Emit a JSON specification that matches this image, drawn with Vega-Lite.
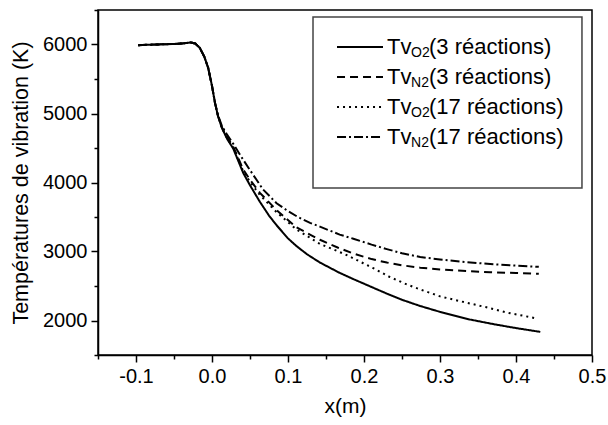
{
  "$schema": "https://vega.github.io/schema/vega-lite/v6.json",
  "width": 494,
  "height": 345,
  "autosize": {"type": "none"},
  "padding": {"left": 98, "top": 10, "right": 16, "bottom": 70},
  "background": "white",
  "config": {
    "view": {"stroke": "black", "strokeWidth": 1.5},
    "font": "Liberation Sans",
    "axis": {
      "labelFont": "Liberation Sans", "labelFontSize": 20, "labelColor": "black",
      "titleFont": "Liberation Sans", "titleFontSize": 20, "titleFontWeight": "normal", "titleColor": "black",
      "domainColor": "black", "domainWidth": 1.5, "tickColor": "black", "tickWidth": 1.5, "grid": false
    }
  },
  "datasets": {
    "curves": [
      {"s":"O2_3","x":-0.097,"T":5990},{"s":"O2_3","x":-0.08,"T":5998},{"s":"O2_3","x":-0.06,"T":6005},{"s":"O2_3","x":-0.045,"T":6010},{"s":"O2_3","x":-0.035,"T":6020},{"s":"O2_3","x":-0.028,"T":6030},{"s":"O2_3","x":-0.022,"T":6015},{"s":"O2_3","x":-0.016,"T":5950},{"s":"O2_3","x":-0.01,"T":5820},{"s":"O2_3","x":-0.005,"T":5660},{"s":"O2_3","x":0.0,"T":5400},{"s":"O2_3","x":0.004,"T":5150},{"s":"O2_3","x":0.008,"T":4960},{"s":"O2_3","x":0.013,"T":4790},{"s":"O2_3","x":0.02,"T":4630},
      {"s":"O2_3","x":0.028,"T":4490},{"s":"O2_3","x":0.041,"T":4140},{"s":"O2_3","x":0.05,"T":3960},{"s":"O2_3","x":0.063,"T":3720},{"s":"O2_3","x":0.075,"T":3520},{"s":"O2_3","x":0.085,"T":3380},{"s":"O2_3","x":0.1,"T":3190},{"s":"O2_3","x":0.111,"T":3080},{"s":"O2_3","x":0.125,"T":2960},{"s":"O2_3","x":0.142,"T":2840},{"s":"O2_3","x":0.168,"T":2690},{"s":"O2_3","x":0.186,"T":2600},{"s":"O2_3","x":0.21,"T":2485},{"s":"O2_3","x":0.23,"T":2390},{"s":"O2_3","x":0.25,"T":2300},{"s":"O2_3","x":0.274,"T":2210},{"s":"O2_3","x":0.3,"T":2125},{"s":"O2_3","x":0.339,"T":2015},{"s":"O2_3","x":0.37,"T":1948},{"s":"O2_3","x":0.4,"T":1890},{"s":"O2_3","x":0.432,"T":1835},

      {"s":"N2_3","x":-0.097,"T":5990},{"s":"N2_3","x":-0.08,"T":5998},{"s":"N2_3","x":-0.06,"T":6005},{"s":"N2_3","x":-0.045,"T":6010},{"s":"N2_3","x":-0.035,"T":6020},{"s":"N2_3","x":-0.028,"T":6030},{"s":"N2_3","x":-0.022,"T":6015},{"s":"N2_3","x":-0.016,"T":5950},{"s":"N2_3","x":-0.01,"T":5820},{"s":"N2_3","x":-0.005,"T":5660},{"s":"N2_3","x":0.0,"T":5400},{"s":"N2_3","x":0.004,"T":5150},{"s":"N2_3","x":0.008,"T":4960},{"s":"N2_3","x":0.013,"T":4800},{"s":"N2_3","x":0.02,"T":4650},
      {"s":"N2_3","x":0.028,"T":4520},{"s":"N2_3","x":0.041,"T":4190},{"s":"N2_3","x":0.05,"T":4040},{"s":"N2_3","x":0.063,"T":3850},{"s":"N2_3","x":0.085,"T":3600},{"s":"N2_3","x":0.111,"T":3350},{"s":"N2_3","x":0.142,"T":3170},{"s":"N2_3","x":0.166,"T":3055},{"s":"N2_3","x":0.186,"T":2970},{"s":"N2_3","x":0.21,"T":2890},{"s":"N2_3","x":0.23,"T":2840},{"s":"N2_3","x":0.25,"T":2800},{"s":"N2_3","x":0.274,"T":2765},{"s":"N2_3","x":0.3,"T":2740},{"s":"N2_3","x":0.336,"T":2715},{"s":"N2_3","x":0.366,"T":2700},{"s":"N2_3","x":0.4,"T":2688},{"s":"N2_3","x":0.43,"T":2678},

      {"s":"O2_17","x":-0.097,"T":5990},{"s":"O2_17","x":-0.08,"T":5998},{"s":"O2_17","x":-0.06,"T":6005},{"s":"O2_17","x":-0.045,"T":6010},{"s":"O2_17","x":-0.035,"T":6020},{"s":"O2_17","x":-0.028,"T":6030},{"s":"O2_17","x":-0.022,"T":6015},{"s":"O2_17","x":-0.016,"T":5950},{"s":"O2_17","x":-0.01,"T":5820},{"s":"O2_17","x":-0.005,"T":5660},{"s":"O2_17","x":0.0,"T":5400},{"s":"O2_17","x":0.004,"T":5150},{"s":"O2_17","x":0.008,"T":4960},{"s":"O2_17","x":0.013,"T":4795},{"s":"O2_17","x":0.02,"T":4640},
      {"s":"O2_17","x":0.028,"T":4505},{"s":"O2_17","x":0.041,"T":4165},{"s":"O2_17","x":0.05,"T":4010},{"s":"O2_17","x":0.063,"T":3820},{"s":"O2_17","x":0.085,"T":3570},{"s":"O2_17","x":0.111,"T":3320},{"s":"O2_17","x":0.142,"T":3110},{"s":"O2_17","x":0.175,"T":2960},{"s":"O2_17","x":0.199,"T":2830},{"s":"O2_17","x":0.212,"T":2760},{"s":"O2_17","x":0.234,"T":2630},{"s":"O2_17","x":0.257,"T":2520},{"s":"O2_17","x":0.274,"T":2450},{"s":"O2_17","x":0.3,"T":2350},{"s":"O2_17","x":0.336,"T":2255},{"s":"O2_17","x":0.36,"T":2195},{"s":"O2_17","x":0.388,"T":2115},{"s":"O2_17","x":0.425,"T":2035},

      {"s":"N2_17","x":-0.097,"T":5990},{"s":"N2_17","x":-0.08,"T":5998},{"s":"N2_17","x":-0.06,"T":6005},{"s":"N2_17","x":-0.045,"T":6010},{"s":"N2_17","x":-0.035,"T":6020},{"s":"N2_17","x":-0.028,"T":6030},{"s":"N2_17","x":-0.022,"T":6015},{"s":"N2_17","x":-0.016,"T":5950},{"s":"N2_17","x":-0.01,"T":5820},{"s":"N2_17","x":-0.005,"T":5660},{"s":"N2_17","x":0.0,"T":5400},{"s":"N2_17","x":0.004,"T":5150},{"s":"N2_17","x":0.008,"T":4970},{"s":"N2_17","x":0.013,"T":4820},{"s":"N2_17","x":0.02,"T":4690},
      {"s":"N2_17","x":0.028,"T":4560},{"s":"N2_17","x":0.041,"T":4330},{"s":"N2_17","x":0.05,"T":4180},{"s":"N2_17","x":0.067,"T":3900},{"s":"N2_17","x":0.085,"T":3700},{"s":"N2_17","x":0.098,"T":3600},{"s":"N2_17","x":0.113,"T":3500},{"s":"N2_17","x":0.129,"T":3415},{"s":"N2_17","x":0.142,"T":3360},{"s":"N2_17","x":0.168,"T":3245},{"s":"N2_17","x":0.186,"T":3185},{"s":"N2_17","x":0.21,"T":3100},{"s":"N2_17","x":0.23,"T":3035},{"s":"N2_17","x":0.25,"T":2975},{"s":"N2_17","x":0.274,"T":2920},{"s":"N2_17","x":0.3,"T":2885},{"s":"N2_17","x":0.336,"T":2845},{"s":"N2_17","x":0.366,"T":2818},{"s":"N2_17","x":0.4,"T":2795},{"s":"N2_17","x":0.43,"T":2778}
    ],
    "leg": [
      {"s":"O2_3","sub":"O2","rest":"(3 réactions)"},
      {"s":"N2_3","sub":"N2","rest":"(3 réactions)"},
      {"s":"O2_17","sub":"O2","rest":"(17 réactions)"},
      {"s":"N2_17","sub":"N2","rest":"(17 réactions)"}
    ]
  },
  "layer": [
    {
      "layer": [
        {
          "data": {"name": "curves"},
          "mark": {"type": "line", "color": "black", "strokeWidth": 2},
          "encoding": {
            "x": {"field": "x", "type": "quantitative",
              "scale": {"domain": [-0.15, 0.5], "nice": false, "zero": false},
              "axis": {"title": "x(m)", "orient": "bottom", "values": [-0.1, 0, 0.1, 0.2, 0.3, 0.4, 0.5], "tickSize": 7, "labelPadding": 4, "titlePadding": 9, "titleFontSize": 21,
                "labelExpr": "datum.value < -0.001 ? '-' + format(-datum.value, '.1f') : format(abs(datum.value), '.1f')", "labelFlush": false, "labelOverlap": false}},
            "y": {"field": "T", "type": "quantitative",
              "scale": {"domain": [1500, 6500], "nice": false, "zero": false},
              "axis": {"title": "Températures de vibration (K)", "orient": "left", "values": [2000, 3000, 4000, 5000, 6000], "format": "d", "tickSize": 7, "labelPadding": 4, "titlePadding": 10, "titleFontSize": 21.5, "labelOverlap": false, "labelFlush": false}},
            "strokeDash": {"field": "s", "type": "nominal", "legend": null,
              "scale": {"domain": ["O2_3", "N2_3", "O2_17", "N2_17"], "range": [[1, 0], [8, 5], [2, 4], [9, 3, 2, 3]]}}
          }
        },
        {
          "data": {"values": [{}]},
          "mark": {"type": "rule", "opacity": 0},
          "encoding": {
            "x": {"datum": 0, "type": "quantitative",
              "scale": {"domain": [-0.15, 0.5], "nice": false, "zero": false},
              "axis": {"title": null, "orient": "bottom", "values": [-0.15, -0.05, 0.05, 0.15, 0.25, 0.35, 0.45], "labels": false, "domain": false, "tickSize": 4}},
            "y": {"datum": 2000, "type": "quantitative",
              "scale": {"domain": [1500, 6500], "nice": false, "zero": false},
              "axis": {"title": null, "orient": "left", "values": [1500, 2500, 3500, 4500, 5500, 6500], "labels": false, "domain": false, "tickSize": 4}}
          }
        },
        {
          "data": {"values": [{}]},
          "mark": {"type": "rect", "fillOpacity": 0, "stroke": "#444444", "strokeWidth": 1.5},
          "encoding": {
            "x": {"datum": 0.1329, "type": "quantitative", "axis": null},
            "x2": {"datum": 0.4868},
            "y": {"datum": 6399, "type": "quantitative", "axis": null},
            "y2": {"datum": 3920}
          }
        }
      ],
      "resolve": {"axis": {"x": "independent", "y": "independent"}}
    },
    {
      "data": {"name": "leg"},
      "encoding": {
        "y": {"field": "s", "type": "nominal", "axis": null,
          "scale": {"type": "point", "domain": ["O2_3", "N2_3", "O2_17", "N2_17"], "range": [37, 127], "padding": 0}}
      },
      "layer": [
        {
          "mark": {"type": "rule", "color": "black", "strokeWidth": 2},
          "encoding": {
            "x": {"datum": 0.1645, "type": "quantitative", "axis": null},
            "x2": {"datum": 0.225},
            "strokeDash": {"field": "s", "type": "nominal", "legend": null}
          }
        },
        {
          "mark": {"type": "text", "text": "Tv", "align": "left", "baseline": "middle", "fontSize": 22, "font": "Liberation Sans", "color": "black"},
          "encoding": {"x": {"datum": 0.2303, "type": "quantitative", "axis": null}}
        },
        {
          "mark": {"type": "text", "align": "left", "baseline": "middle", "fontSize": 14, "font": "Liberation Sans", "color": "black", "dx": 24, "dy": 6},
          "encoding": {"x": {"datum": 0.2303, "type": "quantitative", "axis": null}, "text": {"field": "sub"}}
        },
        {
          "mark": {"type": "text", "align": "left", "baseline": "middle", "fontSize": 22, "font": "Liberation Sans", "color": "black", "dx": 42},
          "encoding": {"x": {"datum": 0.2303, "type": "quantitative", "axis": null}, "text": {"field": "rest"}}
        }
      ]
    }
  ],
  "resolve": {"scale": {"y": "independent"}}
}
